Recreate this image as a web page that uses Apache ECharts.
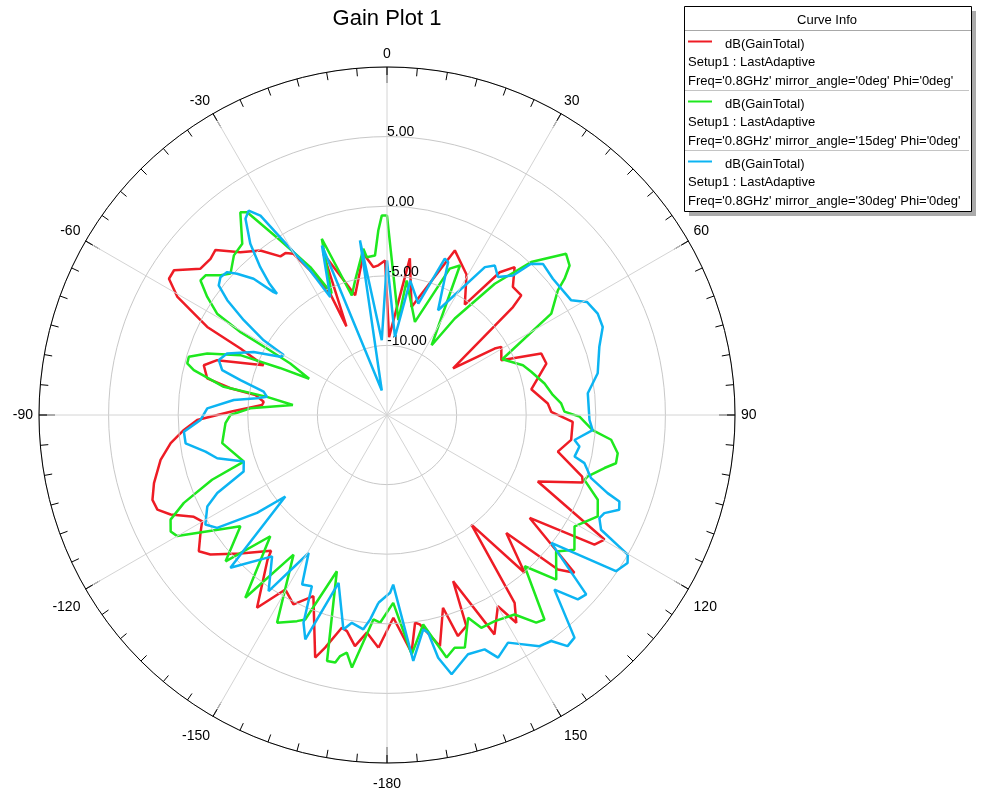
<!DOCTYPE html>
<html>
<head>
<meta charset="utf-8">
<script src="https://cdn.jsdelivr.net/npm/echarts@6/dist/echarts.min.js"></script>
<style>html,body{margin:0;padding:0;background:#fff}#c{width:983px;height:789px}</style>
</head>
<body>
<div id="c"></div>
<script>
// ---- data (phi in degrees, gain in dB) ----
const chartTitle = 'Gain Plot 1';
const angleRange = [0, 360];
const angleStep = 30;
const minorAngleStep = 5;
const radiusRange = [-15, 10];
const radiusStep = 5;

const redCurve = [[-177.9,1.73],[-174.7,0.7],[-172.1,1.76],[-169.5,0.79],[-168,0.62],[-165.1,2.29],[-163.5,3.17],[-157.9,-0.95],[-153.7,0.17],[-149.8,-0.49],[-146,1.7],[-140.5,-1.5],[-139.5,-2.18],[-133.4,-0.51],[-128.3,1.17],[-125.9,1.69],[-122.3,0.85],[-119.9,0.32],[-117.8,0.69],[-114.7,2.11],[-112.4,2.84],[-109.9,2.92],[-106.3,2.44],[-101.2,1.58],[-97.4,0.67],[-94.2,-0.37],[-91.5,-1.36],[-88.8,-3.75],[-85.4,-6.0],[-83.9,-6.09],[-81.4,-5.44],[-80.3,-3.59],[-78.5,-1.82],[-74.8,-1.36],[-72.1,-2.18],[-68,-5.44],[-65.6,-3.44],[-63.9,-0.62],[-60.6,2.28],[-58,3.47],[-55.8,3.5],[-51.9,2.03],[-48.5,1.93],[-46.1,2.1],[-42,0.74],[-37.6,-0.08],[-33.9,-1.27],[-32.1,-1.27],[-30.1,-1.61],[-28,-3.24],[-25.1,-5.37],[-24.6,-8.0],[-21.5,-2.55],[-14.9,-6.1],[-8.3,-3.3],[-5.3,-4.33],[-3.3,-4.23],[-0.7,-3.9],[1.5,-9.4],[8.3,-3.63],[12.8,-7.04],[22.4,-2.21],[29.5,-3.4],[35.2,-5.3],[38.3,-1.93],[40.8,-0.97],[44.5,-2.1],[48.3,-2.08],[49.4,-3.08],[54.8,-9.19],[58.3,-5.91],[59.2,-5.44],[64.4,-5.89],[68.3,-3.07],[72.1,-2.97],[79.9,-4.47],[85.9,-3.42],[88.9,-3.2],[92.1,-1.65],[97.7,-1.65],[102.1,-2.45],[107.5,-0.3],[109,-0.13],[113.8,-3.16],[119.8,3.0],[122,2.57],[125.8,-2.36],[130.1,2.6],[132.1,1.55],[134.7,-2.94],[138.9,0.04],[142.4,-5.06],[145.8,1.31],[148.1,2.58],[149.9,0.88],[153.9,2.55],[158.3,-2.15],[159.4,1.2],[162.2,1.68],[163.8,-0.58],[167.1,2.03],[171.1,0.23],[172.3,0.06],[174.1,2.16],[178.2,-0.43]];

const greenCurve = [[-178.1,-0.07],[-176.2,-0.28],[-172.1,3.32],[-170.4,2.31],[-169,2.64],[-168.2,3.17],[-166.3,3.19],[-162.2,-3.21],[-158.2,0.82],[-156.4,1.16],[-152.1,1.88],[-146.2,-2.93],[-142.2,1.61],[-136.1,-2.91],[-132.2,0.65],[-127.2,-1.78],[-120,2.4],[-118.3,2.65],[-115.8,2.27],[-113.4,0.9],[-110.3,-1.6],[-108,-4.18],[-99.7,-2.99],[-92.9,-3.38],[-90,-3.75],[-87.2,-5.17],[-83.9,-8.2],[-81.4,-6.28],[-80.2,-3.1],[-76.9,-0.75],[-75.5,-0.18],[-73.6,-0.16],[-71.1,-1.35],[-67.8,-3.62],[-66.3,-6.59],[-65,-8.83],[-62,-7.13],[-61,-5.14],[-60.5,-2.95],[-59.2,-0.79],[-56.7,0.45],[-54.2,1.52],[-52.4,1.45],[-50,0.61],[-47.9,0.15],[-43.8,0.89],[-40.2,1.11],[-35.9,2.97],[-34.6,2.69],[-31.4,-0.31],[-27.4,-3.03],[-24.5,-5.4],[-20.3,-1.5],[-16.4,-6.05],[-13.3,-5.06],[-8.1,-2.94],[-7.3,-3.57],[-4.3,-3.51],[-2.7,-1.73],[-1.5,-0.67],[0,-0.67],[6.8,-8.14],[8.3,-5.23],[16.7,-8.02],[23.2,-3.56],[26,-3.05],[32.6,-9.05],[35.1,-6.53],[39.4,-2.8],[43.3,0.1],[48,2.31],[50.7,1.95],[52.5,1.08],[53.9,0.19],[58.3,-1.13],[64.2,-5.8],[69.9,-4.6],[73.3,-4.18],[78.7,-3.46],[83.1,-3.0],[86.2,-2.46],[88.9,-2.25],[90.5,-1.17],[94.2,-0.19],[96.3,1.2],[99.4,1.8],[101.9,1.81],[103.7,1.08],[107,0.08],[108.2,-0.07],[111.9,1.32],[115.7,1.8],[120.7,0.67],[125.7,1.58],[128.9,0.61],[134.2,1.96],[137.7,-0.31],[142.4,3.54],[144.3,3.37],[147.4,2.01],[152.4,1.71],[156.1,1.72],[158.2,0.69],[161.5,2.62],[163.8,2.41],[166.2,2.94],[170.2,0.27],[174.1,2.28],[178.1,-1.5]];

const blueCurve = [[-177.4,-1.5],[-175.3,-0.27],[-173.7,0.49],[-170.4,0.14],[-168.5,0.72],[-163.9,-2.45],[-160,2.16],[-158.1,1.08],[-156.3,-1.57],[-153.4,-1.38],[-150.4,-3.6],[-146.1,0.25],[-140.9,-1.91],[-134.3,0.72],[-128.7,-5.64],[-127,-3.31],[-123.6,-0.35],[-121.1,0.24],[-117,-0.51],[-114.7,-1.58],[-111.5,-3.93],[-108,-4.18],[-104.3,-2.41],[-101.4,-1.7],[-98,-0.39],[-94.7,-0.36],[-91.5,-1.6],[-87.9,-2.08],[-84.4,-3.94],[-82.7,-5.59],[-81.4,-6.28],[-79.3,-5.98],[-76.6,-4.18],[-74.8,-2.73],[-71.9,-2.29],[-69,-2.69],[-64.7,-4.4],[-61.4,-6.27],[-59.9,-6.42],[-58.8,-4.64],[-56.5,-2.66],[-54.3,-0.87],[-52.4,0.26],[-50.4,0.53],[-48.2,0.4],[-46.7,-0.2],[-44.4,-1.3],[-42.7,-2.99],[-42.2,-3.24],[-41.8,-2.3],[-40.6,-1.01],[-38.6,0.74],[-35.8,2.38],[-34.1,2.73],[-32.4,1.97],[-31,-0.11],[-28,-3.24],[-25.7,-5.6],[-21,-1.96],[-12,-13.2],[-8.8,-2.31],[-4,-9.61],[0,-3.9],[5.8,-9.36],[9.8,-5.2],[15.7,-6.69],[20.3,-3.03],[21.8,-3.17],[26,-6.63],[33.5,-2.26],[35.8,-1.76],[38.8,-2.28],[42.1,-1.5],[43.6,0.01],[45.9,0.6],[50.6,0.42],[58.1,0.59],[60.5,1.5],[64.3,1.8],[67.8,1.74],[72.2,1.02],[78.8,0.43],[83.8,-0.49],[91.4,-0.45],[94.2,-0.19],[97.6,-1.41],[99.3,-0.99],[102.5,-1.2],[103.7,-0.4],[107.2,0.35],[109.5,1.81],[110.4,2.81],[112.2,3.02],[114.3,2.13],[115.9,1.96],[118.2,2.45],[120.1,4.99],[121.6,5.29],[124.3,4.91],[127.9,-0.04],[132,4.26],[134,4.06],[136.2,2.38],[139.9,5.91],[142,6.07],[144,5.07],[146.6,4.89],[152,3.52],[155.4,4.17],[157.4,3.24],[161.3,3.15],[166,4.19],[168.1,2.82],[169.3,0.91],[170.4,0.62],[173.9,2.77],[177.9,-2.81],[179,-2.23]];

const curveColors = ['#ee1c25', '#1ee81e', '#0cb4f2'];
const curveNames = ['dB(GainTotal)', 'dB(GainTotal)', 'dB(GainTotal)'];
const curveSetups = ['Setup1 : LastAdaptive', 'Setup1 : LastAdaptive', 'Setup1 : LastAdaptive'];
const curveVariations = ["Freq='0.8GHz' mirror_angle='0deg' Phi='0deg'", "Freq='0.8GHz' mirror_angle='15deg' Phi='0deg'", "Freq='0.8GHz' mirror_angle='30deg' Phi='0deg'"];
const legendHeader = 'Curve Info';

// ---- build ----
const FONT = "'Liberation Sans', Arial, sans-serif";
function toPolar(curve) {
  const pts = curve.map(p => [p[1], p[0] < 0 ? p[0] + 360 : p[0]]);
  pts.push(pts[0].slice());
  return pts;
}
const curves = [redCurve, greenCurve, blueCurve];

const chart = echarts.init(document.getElementById('c'), null, {renderer: 'canvas'});

const graphics = [];
graphics.push({type: 'text', x: 387, y: 19, style: {text: chartTitle, font: '22px ' + FONT, fill: '#000', align: 'center', verticalAlign: 'middle'}});
// legend box
const LX = 684, LY = 6, LW = 287, LH = 205;
const LF = '13px ' + FONT;
graphics.push({type: 'rect', shape: {x: LX + 5, y: LY + 5, width: LW, height: LH}, style: {fill: '#ababab'}, z: 10});
graphics.push({type: 'rect', shape: {x: LX + 0.5, y: LY + 0.5, width: LW, height: LH}, style: {fill: '#fff', stroke: '#000', lineWidth: 1}, z: 11});
graphics.push({type: 'text', x: LX + 143, y: LY + 14.5, style: {text: legendHeader, font: LF, fill: '#000', align: 'center', verticalAlign: 'middle'}, z: 12});
graphics.push({type: 'line', shape: {x1: LX + 1, y1: 30.5, x2: LX + LW, y2: 30.5}, style: {stroke: '#a8a8a8', lineWidth: 1}, z: 12});
for (let i = 0; i < 3; i++) {
  const top = 31 + 60 * i;
  graphics.push({type: 'line', shape: {x1: 688, y1: top + 10.5, x2: 712, y2: top + 10.5}, style: {stroke: curveColors[i], lineWidth: 2}, z: 12});
  graphics.push({type: 'text', x: 725, y: top + 13, style: {text: curveNames[i], font: LF, fill: '#000', verticalAlign: 'middle'}, z: 12});
  graphics.push({type: 'text', x: 688, y: top + 31, style: {text: curveSetups[i], font: LF, fill: '#000', verticalAlign: 'middle'}, z: 12});
  graphics.push({type: 'text', x: 688, y: top + 50, style: {text: curveVariations[i], font: LF, fill: '#000', verticalAlign: 'middle'}, z: 12});
  if (i < 2) {
    graphics.push({type: 'line', shape: {x1: LX + 1, y1: top + 59.5, x2: LX + LW - 2, y2: top + 59.5}, style: {stroke: '#c4c4c4', lineWidth: 1}, z: 12});
  }
}

chart.setOption({
  animation: false,
  backgroundColor: '#fff',
  polar: [
    {center: [387, 415], radius: 348},
    {center: [387, 415], radius: 348}
  ],
  angleAxis: [
    {
      polarIndex: 0,
      type: 'value', min: angleRange[0], max: angleRange[1], interval: angleStep,
      startAngle: 90, clockwise: true,
      axisLine: {show: true, lineStyle: {color: '#000', width: 1}},
      axisTick: {show: true, inside: true, length: 16, lineStyle: {color: '#000', width: 1}},
      minorTick: {show: false},
      splitLine: {show: true, lineStyle: {color: '#d4d4d4', width: 1}},
      axisLabel: {
        color: '#000', fontSize: 14, fontFamily: FONT, margin: 6, padding: [8, 0, 0, 0],
        formatter: v => (v >= 360 ? '' : (v >= 180 ? String(v - 360) : String(v)))
      },
      z: 6
    },
    {
      polarIndex: 1,
      type: 'value', min: angleRange[0], max: angleRange[1], interval: minorAngleStep,
      startAngle: 90, clockwise: true,
      axisLine: {show: false},
      axisTick: {show: true, inside: true, length: 8, lineStyle: {color: '#000', width: 1}},
      axisLabel: {show: false},
      splitLine: {show: false},
      z: 6
    }
  ],
  radiusAxis: [
    {
      polarIndex: 0,
      type: 'value', min: radiusRange[0], max: radiusRange[1], interval: radiusStep,
      axisLine: {show: false}, axisTick: {show: false},
      splitLine: {show: true, lineStyle: {color: '#c8c8c8', width: 1}},
      axisLabel: {
        color: '#000', fontSize: 14, fontFamily: FONT, margin: 0, align: 'left', verticalAlign: 'bottom', lineHeight: 8,
        formatter: v => (v <= radiusRange[0] || v >= radiusRange[1] ? '' : v.toFixed(2))
      },
      z: 5
    },
    {
      polarIndex: 1,
      type: 'value', min: radiusRange[0], max: radiusRange[1],
      axisLine: {show: false}, axisTick: {show: false}, axisLabel: {show: false}, splitLine: {show: false}
    }
  ],
  series: curves.map((c, i) => ({
    type: 'line', coordinateSystem: 'polar', polarIndex: 0, data: toPolar(c),
    showSymbol: false, symbol: 'none', smooth: false,
    lineStyle: {color: curveColors[i], width: 2.5},
    itemStyle: {color: curveColors[i]},
    z: 3 + i
  })),
  graphic: graphics
});
</script>
</body>
</html>
